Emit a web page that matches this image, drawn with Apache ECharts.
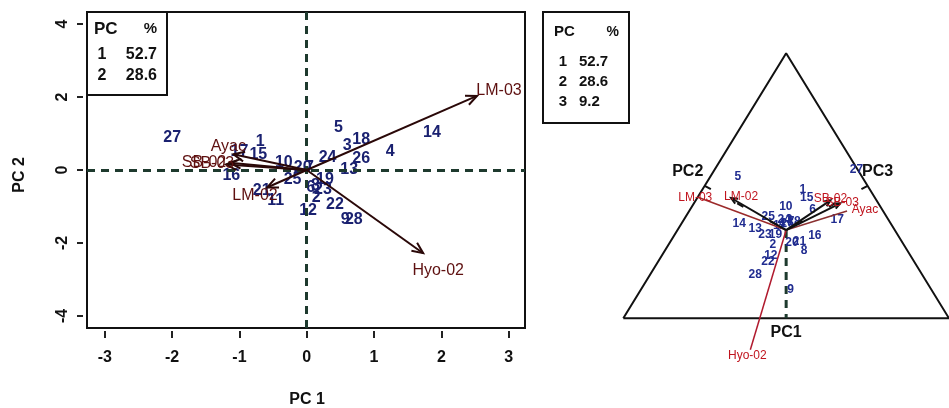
<!DOCTYPE html>
<html><head><meta charset="utf-8">
<script src="https://cdn.jsdelivr.net/npm/echarts@6/dist/echarts.min.js"></script>
<style>html,body{margin:0;padding:0;background:#fff}#c{width:949px;height:408px}</style>
</head><body><div id="c"></div>
<script>
// ---------- data: biplot (PC1 x PC2) ----------
const xTicks = [-3, -2, -1, 0, 1, 2, 3];
const yTicks = [-4, -2, 0, 2, 4];
const obsIds = ['1','2','3','4','5','6','7','8','9','10','11','12','13','14','15','16','17','18','19','20','21','22','23','24','25','26','27','28'];
const obsPC1 = [-0.69, 0.14, 0.60, 1.24, 0.47, 0.06, 0.04, 0.13, 0.57, -0.34, -0.46, 0.02, 0.63, 1.86, -0.72, -1.12, -1.00, 0.81, 0.27, -0.06, -0.67, 0.42, 0.24, 0.31, -0.21, 0.81, -2.00, 0.70];
const obsPC2 = [0.79, -0.76, 0.66, 0.50, 1.16, -0.48, 0.06, -0.44, -1.35, 0.20, -0.85, -1.12, 0.02, 1.02, 0.43, -0.16, 0.50, 0.84, -0.26, 0.06, -0.57, -0.94, -0.53, 0.34, -0.26, 0.31, 0.88, -1.35];
const varNames = ['LM-03', 'Hyo-02', 'LM-02', 'Ayac', 'SB-02', 'SB-03'];
const varPC1 = [2.53, 1.73, -0.59, -1.09, -1.14, -1.20];
const varPC2 = [2.03, -2.28, -0.48, 0.43, 0.20, 0.15];
// variance table
const pcNumbers = ['1', '2', '3'];
const pcPercent = ['52.7', '28.6', '9.2'];
// ---------- data: ternary plot (PC1, PC2, PC3) ----------
const triVertU = [0, 1, 0.5, 0];
const triVertV = [0, 0, 1, 0];
const triCentre = [0.5, 0.333];
const triObsU = [0.551, 0.459, 0.509, 0.488, 0.352, 0.581, 0.515, 0.555, 0.514, 0.499, 0.479, 0.453, 0.405, 0.356, 0.563, 0.588, 0.657, 0.524, 0.467, 0.518, 0.541, 0.444, 0.435, 0.494, 0.445, 0.503, 0.716, 0.405];
const triObsV = [0.487, 0.277, 0.371, 0.356, 0.533, 0.409, 0.363, 0.255, 0.109, 0.421, 0.348, 0.235, 0.340, 0.358, 0.457, 0.311, 0.374, 0.363, 0.314, 0.284, 0.288, 0.214, 0.314, 0.371, 0.383, 0.356, 0.560, 0.163];
const triVarU = [0.227, 0.390, 0.331, 0.687, 0.636, 0.666];
const triVarV = [0.458, -0.119, 0.454, 0.405, 0.445, 0.434];
const triAxisNames = ['PC1', 'PC2', 'PC3'];
const triSideMidU = [0.5, 0.25, 0.75];
const triSideMidV = [0, 0.5, 0.5];

// ---------- styles ----------
const FONT = 'Liberation Sans, Arial, sans-serif';
const NAVY = '#1a2170';
const ARROW = '#2a0808';
const VARLAB = '#5e1010';
const leftVarOffset = {'LM-03': [22, -5], 'Hyo-02': [15, 17], 'LM-02': [-12, 8], 'Ayac': [-5, -8], 'SB-02': [-26, 0], 'SB-03': [-14, -1]};
const triVarOffset = {'LM-03': [-2, 1], 'Hyo-02': [-3, 6], 'LM-02': [10, -1], 'Ayac': [18, -1], 'SB-02': [0, -2], 'SB-03': [2, -1]};
const triVarColor = {'LM-03': '#9b2a2a', 'Hyo-02': '#b01a2e', 'LM-02': '#111111', 'Ayac': '#8a3030', 'SB-02': '#111111', 'SB-03': '#111111'};
const triVarHead = {'LM-03': 0, 'Hyo-02': 0, 'LM-02': 1, 'Ayac': 0, 'SB-02': 1, 'SB-03': 1};
const noBorder = {textBorderWidth: 0, textBorderColor: 'transparent', textShadowBlur: 0, opacity: 1};
const solid = {opacity: 1};

function arrowItem(headLen, widthFn, colorFn) {
  return function (params, api) {
    const a = api.coord([api.value(0), api.value(1)]);
    const b = api.coord([api.value(2), api.value(3)]);
    const color = colorFn(params.dataIndex);
    const w = widthFn(params.dataIndex);
    const children = [{type: 'line', shape: {x1: a[0], y1: a[1], x2: b[0], y2: b[1]}, style: {stroke: color, lineWidth: w}}];
    if (api.value(4)) {
      const ang = Math.atan2(b[1] - a[1], b[0] - a[0]);
      const h1 = [b[0] - headLen * Math.cos(ang - 0.42), b[1] - headLen * Math.sin(ang - 0.42)];
      const h2 = [b[0] - headLen * Math.cos(ang + 0.42), b[1] - headLen * Math.sin(ang + 0.42)];
      children.push({type: 'polyline', shape: {points: [h1, b, h2]}, style: {stroke: color, lineWidth: w, fill: null}});
    }
    return {type: 'group', children: children};
  };
}

const chart = echarts.init(document.getElementById('c'), null, {renderer: 'canvas'});

const graphics = [];
function txt(x, y, text, font, align) {
  return {type: 'text', x: x, y: y, z: 51, style: {text: text, font: font, fill: '#111', textAlign: align, textVerticalAlign: 'middle', align: align, verticalAlign: 'middle'}};
}
// left variance table
graphics.push({type: 'rect', shape: {x: 87, y: 12, width: 80, height: 83}, style: {fill: '#fff', stroke: '#111', lineWidth: 2}, z: 50});
graphics.push(txt(94, 29, 'PC', 'bold 17px ' + FONT, 'left'));
graphics.push(txt(157, 29, '%', 'bold 15px ' + FONT, 'right'));
for (let i = 0; i < 2; i++) {
  const y = 55 + i * 21;
  graphics.push(txt(102, y, pcNumbers[i], 'bold 16px ' + FONT, 'center'));
  graphics.push(txt(157, y, pcPercent[i], 'bold 16px ' + FONT, 'right'));
}
// right variance table
graphics.push({type: 'rect', shape: {x: 543, y: 12, width: 86, height: 111}, style: {fill: '#fff', stroke: '#111', lineWidth: 2}, z: 50});
graphics.push(txt(554, 32, 'PC', 'bold 15px ' + FONT, 'left'));
graphics.push(txt(619, 32, '%', 'bold 14px ' + FONT, 'right'));
for (let i = 0; i < 3; i++) {
  const y = 62 + i * 20;
  graphics.push(txt(563, y, pcNumbers[i], 'bold 15px ' + FONT, 'center'));
  graphics.push(txt(579, y, pcPercent[i], 'bold 15px ' + FONT, 'left'));
}
// axis titles of biplot
graphics.push(txt(307, 400, 'PC 1', 'bold 16px ' + FONT, 'center'));
const yTitle = txt(20, 175, 'PC 2', 'bold 16px ' + FONT, 'center');
yTitle.rotation = Math.PI / 2;
graphics.push(yTitle);

const option = {
  animation: false,
  backgroundColor: '#fff',
  grid: [
    {left: 87, top: 12, width: 438, height: 316, show: true, borderColor: '#111', borderWidth: 2, backgroundColor: 'transparent'},
    {left: 623.3, top: 53.3, width: 337.4, height: 344.5, show: false}
  ],
  xAxis: [
    {gridIndex: 0, type: 'value', min: -3.265, max: 3.243, position: 'bottom', offset: 3,
     axisLine: {show: false, onZero: false}, splitLine: {show: false},
     axisTick: {show: true, customValues: xTicks, length: 7, lineStyle: {color: '#222', width: 2}},
     axisLabel: {customValues: xTicks, margin: 19, fontSize: 16, fontWeight: 'bold', color: '#111', fontFamily: FONT}},
    {gridIndex: 1, type: 'value', min: 0, max: 1, show: false}
  ],
  yAxis: [
    {gridIndex: 0, type: 'value', min: -4.33, max: 4.33, position: 'left', offset: 4,
     axisLine: {show: false, onZero: false}, splitLine: {show: false},
     axisTick: {show: true, customValues: yTicks, length: 6, lineStyle: {color: '#222', width: 2}},
     axisLabel: {customValues: yTicks, rotate: 90, margin: 12, fontSize: 16, fontWeight: 'bold', color: '#111', fontFamily: FONT}},
    {gridIndex: 1, type: 'value', min: -0.3, max: 1, show: false}
  ],
  graphic: graphics,
  series: [
    // biplot: observations + dashed reference lines
    {type: 'scatter', xAxisIndex: 0, yAxisIndex: 0, symbolSize: 0, z: 4, itemStyle: solid,
     data: obsIds.map((id, i) => ({name: id, value: [obsPC1[i], obsPC2[i]]})),
     label: Object.assign({show: true, position: 'inside', formatter: p => p.name, color: NAVY, fontSize: 16, fontWeight: 'bold', fontFamily: FONT}, noBorder),
     markLine: {silent: true, symbol: 'none', label: {show: false}, animation: false,
       lineStyle: {type: [8, 6], color: '#1e3a2e', width: 3, opacity: 1},
       data: [{xAxis: 0}, {yAxis: 0}]}},
    // biplot: loading arrows
    {type: 'custom', xAxisIndex: 0, yAxisIndex: 0, z: 5,
     renderItem: arrowItem(12, () => 2, () => ARROW),
     data: varNames.map((n, i) => [0, 0, varPC1[i], varPC2[i], 1])},
    // biplot: loading labels
    {type: 'scatter', xAxisIndex: 0, yAxisIndex: 0, symbolSize: 0, z: 6, itemStyle: solid,
     data: varNames.map((n, i) => ({name: n, value: [varPC1[i], varPC2[i]], label: {offset: leftVarOffset[n]}})),
     label: Object.assign({show: true, position: 'inside', formatter: p => p.name, color: VARLAB, fontSize: 16, fontFamily: FONT}, noBorder)},
    // ternary: triangle frame
    {type: 'line', xAxisIndex: 1, yAxisIndex: 1, symbol: 'none', clip: false, z: 2,
     lineStyle: {color: '#111', width: 2},
     data: triVertU.map((u, i) => [u, triVertV[i]])},
    // ternary: dashed PC axes from centre
    {type: 'line', xAxisIndex: 1, yAxisIndex: 1, symbol: 'none', clip: false, z: 2,
     lineStyle: {color: '#1e3a2e', width: 3, type: [8, 6]},
     data: [triCentre, [triSideMidU[0], triSideMidV[0]]]},
    {type: 'line', xAxisIndex: 1, yAxisIndex: 1, symbol: 'none', clip: false, z: 2,
     lineStyle: {color: '#111', width: 2, type: [7, 30]},
     data: [[triSideMidU[1], triSideMidV[1]], triCentre]},
    {type: 'line', xAxisIndex: 1, yAxisIndex: 1, symbol: 'none', clip: false, z: 2,
     lineStyle: {color: '#111', width: 2, type: [7, 30]},
     data: [[triSideMidU[2], triSideMidV[2]], triCentre]},
    // ternary: variable vectors
    {type: 'custom', xAxisIndex: 1, yAxisIndex: 1, z: 5, clip: false,
     renderItem: arrowItem(7, i => (triVarHead[varNames[i]] ? 2 : 1.5), i => triVarColor[varNames[i]]),
     data: varNames.map((n, i) => [triCentre[0], triCentre[1], triVarU[i], triVarV[i], triVarHead[n]])},
    // ternary: observations
    {type: 'scatter', xAxisIndex: 1, yAxisIndex: 1, symbolSize: 0, z: 4, itemStyle: solid,
     data: obsIds.map((id, i) => ({name: id, value: [triObsU[i], triObsV[i]]})),
     label: Object.assign({show: true, position: 'inside', formatter: p => p.name, color: '#202c90', fontSize: 12, fontWeight: 'bold', fontFamily: FONT}, noBorder)},
    // ternary: variable labels
    {type: 'scatter', xAxisIndex: 1, yAxisIndex: 1, symbolSize: 0, z: 6, itemStyle: solid,
     data: varNames.map((n, i) => ({name: n, value: [triVarU[i], triVarV[i]], label: {offset: triVarOffset[n]}})),
     label: Object.assign({show: true, position: 'inside', formatter: p => p.name, color: '#c0141e', fontSize: 12, fontFamily: FONT}, noBorder)},
    // ternary: axis names
    {type: 'scatter', xAxisIndex: 1, yAxisIndex: 1, symbolSize: 0, z: 6, itemStyle: solid,
     data: [
       {name: triAxisNames[0], value: [triSideMidU[0], triSideMidV[0]], label: {offset: [0, 14]}},
       {name: triAxisNames[1], value: [triSideMidU[1], triSideMidV[1]], label: {offset: [-17, -14]}},
       {name: triAxisNames[2], value: [triSideMidU[2], triSideMidV[2]], label: {offset: [10, -14]}}
     ],
     label: Object.assign({show: true, position: 'inside', formatter: p => p.name, color: '#111', fontSize: 16, fontWeight: 'bold', fontFamily: FONT}, noBorder)}
  ]
};
chart.setOption(option);
</script>
</body></html>
